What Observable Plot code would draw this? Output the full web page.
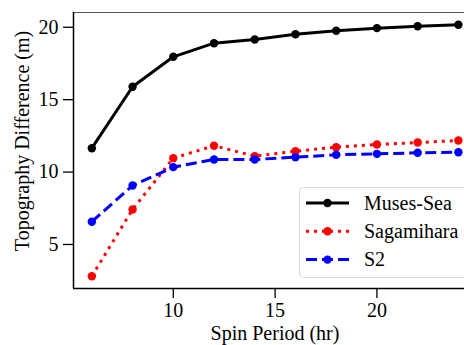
<!DOCTYPE html>
<html>
<head>
<meta charset="utf-8">
<script src="https://cdn.jsdelivr.net/npm/d3@7"></script>
<script src="https://cdn.jsdelivr.net/npm/@observablehq/plot@0.6"></script>
</head>
<body style="margin:0;padding:0;background:#fff">
<script>
const spinPeriod = [6, 8, 10, 12, 14, 16, 18, 20, 22, 24];
const musesSea   = [11.65, 15.89, 17.96, 18.9, 19.16, 19.52, 19.76, 19.94, 20.07, 20.17];
const sagamihara = [2.81, 7.42, 10.96, 11.82, 11.10, 11.44, 11.72, 11.90, 12.04, 12.18];
const s2         = [6.57, 9.07, 10.34, 10.87, 10.87, 11.03, 11.19, 11.26, 11.33, 11.37];
const seriesNames = ["Muses-Sea", "Sagamihara", "S2"];
const seriesColors = ["#000000", "#ff0000", "#0000ff"];
const seriesDash = [null, "3,5", "11,5"];
const xTicks = [10, 15, 20];
const yTicks = [5, 10, 15, 20];
const xDomain = [5.1, 24.3];
const yDomain = [1.96, 21.02];
const xLabel = "Spin Period (hr)";
const yLabel = "Topography Difference (m)";

const FONT = "Liberation Serif";
const allSeries = [musesSea, sagamihara, s2];
const tables = allSeries.map((vals, i) => spinPeriod.map((x, j) => ({x, y: vals[j], s: seriesNames[i]})));

const marks = [];
tables.forEach((t, i) => {
  marks.push(Plot.line(t, {x: "x", y: "y", stroke: seriesColors[i], strokeWidth: 3, strokeDasharray: seriesDash[i], strokeLinecap: "butt", strokeLinejoin: "round"}));
  marks.push(Plot.dot(t, {x: "x", y: "y", r: 4.2, fill: seriesColors[i], stroke: "none"}));
});

const chart = Plot.plot({
  width: 464,
  height: 345,
  marginLeft: 73,
  marginRight: 0,
  marginTop: 12,
  marginBottom: 57,
  style: {fontFamily: "'Times New Roman', serif", fontSize: "20px", color: "#000", background: "#fff"},
  x: {domain: xDomain, ticks: xTicks, tickSize: 10, tickPadding: 4, label: null},
  y: {domain: yDomain, ticks: yTicks, tickSize: 10, tickPadding: 5, label: null},
  marks: [
    Plot.ruleY([yDomain[1]], {stroke: "#555", strokeWidth: 1}),
    ...marks,
    Plot.ruleX([xDomain[0]], {stroke: "#000", strokeWidth: 1.5}),
    Plot.ruleY([yDomain[0]], {stroke: "#000", strokeWidth: 1.5}),
    Plot.axisX({ticks: xTicks, tickSize: 10, tickPadding: 4, label: null, fontSize: 20, fontFamily: FONT, strokeWidth: 1.3}),
    Plot.axisY({ticks: yTicks, tickSize: 10, tickPadding: 5, label: null, fontSize: 20, fontFamily: FONT, strokeWidth: 1.3})
  ]
});
document.body.appendChild(chart);

const svg = d3.select(chart);
svg.append("text").attr("x", 275).attr("y", 340).attr("text-anchor", "middle")
  .attr("font-size", 20).attr("font-family", FONT).attr("fill", "#000")
  .text(xLabel);
svg.append("text").attr("transform", "translate(29,141) rotate(-90)").attr("text-anchor", "middle")
  .attr("font-size", 20).attr("font-family", FONT).attr("fill", "#000")
  .text(yLabel);

// legend (inside the SVG)
const lg = svg.append("g").attr("transform", "translate(299,187)");
lg.append("rect").attr("x", 0.5).attr("y", 0.5).attr("width", 170).attr("height", 90).attr("rx", 4)
  .attr("fill", "#fff").attr("fill-opacity", 0.85).attr("stroke", "#d6d6d6");
seriesNames.forEach((name, i) => {
  const cy = 16 + i * 28.3;
  lg.append("line").attr("x1", 7).attr("x2", 50).attr("y1", cy).attr("y2", cy)
    .attr("stroke", seriesColors[i]).attr("stroke-width", 3)
    .attr("stroke-dasharray", seriesDash[i]);
  lg.append("circle").attr("cx", 28.5).attr("cy", cy).attr("r", 4.2).attr("fill", seriesColors[i]);
  lg.append("text").attr("x", 65).attr("y", cy).attr("dy", "0.33em").attr("text-anchor", "start")
    .attr("font-size", 20).attr("font-family", FONT).attr("fill", "#000").text(name);
});
</script>
</body>
</html>
